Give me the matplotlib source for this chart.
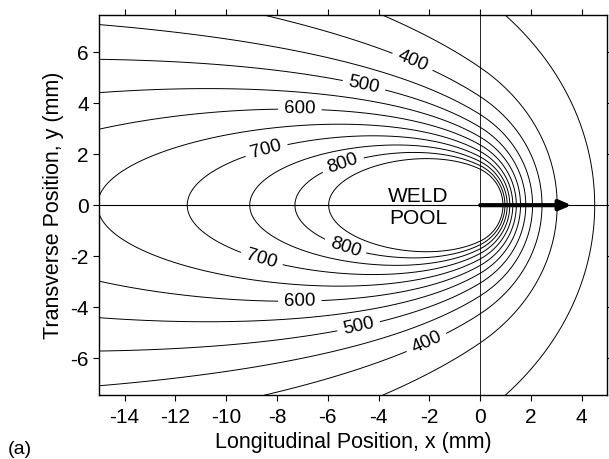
import numpy as np
import matplotlib.pyplot as plt

# isotherm levels (deg C) and the ones carrying labels
levels = [300, 350, 400, 450, 500, 550, 600, 650, 700, 750, 800, 850]
label_levels = [400, 500, 600, 700, 800]
label_pos = [(-2.8, 5.3), (-4.6, 4.6), (-7.1, 3.7), (-8.4, 2.1), (-5.4, 1.6),
             (-5.3, -1.6), (-8.6, -2.1), (-7.1, -3.9), (-4.8, -4.7), (-2.2, -5.2)]

# moving line source (thin plate) parameters
T0 = 281.0      # far field temperature
amp = 662.0     # source strength
u = 0.32        # v / (2 alpha), 1/mm
ky = 1.2        # transverse scale
kx_front = 1.35  # steeper gradient ahead of the arc

x_range = (-15, 5)
y_range = (-7.45, 7.45)
arrow_len = 3.6


def bessel_k0(z):
    z = np.asarray(z, dtype=float)
    out = np.empty_like(z)
    small = z <= 2.0
    zs = z[small]
    t = (zs / 3.75) ** 2
    i0 = 1 + t * (3.5156229 + t * (3.0899424 + t * (1.2067492 + t * (0.2659732
         + t * (0.0360768 + t * 0.0045813)))))
    h = (zs / 2) ** 2
    out[small] = (-np.log(zs / 2) * i0 - 0.57721566 + h * (0.42278420 + h * (0.23069756
                  + h * (0.03488590 + h * (0.00262698 + h * (0.00010750 + h * 0.00000740))))))
    zl = z[~small]
    q = 2 / zl
    poly = 1.25331414 + q * (-0.07832358 + q * (0.02189568 + q * (-0.01062446
           + q * (0.00587872 + q * (-0.00251540 + q * 0.00053208)))))
    out[~small] = np.exp(-zl) / np.sqrt(zl) * poly
    return out


x = np.linspace(x_range[0], x_range[1], 801)
y = np.linspace(y_range[0], y_range[1], 601)
X, Y = np.meshgrid(x, y)

Xr = np.where(X > 0, kx_front * X, X)
R = np.sqrt(Xr ** 2 + (ky * Y) ** 2)
R = np.maximum(R, 0.05)
T = T0 + amp * np.exp(-u * X) * bessel_k0(u * R)

plt.rcParams['font.family'] = 'Liberation Sans'
plt.rcParams['axes.unicode_minus'] = False
fig = plt.figure(figsize=(6.09, 4.59), dpi=100)
ax = fig.add_axes([0.163, 0.139, 0.834, 0.828])

plain_levels = [lv for lv in levels if lv not in label_levels]
ax.contour(X, Y, T, levels=plain_levels, colors='black', linewidths=0.7)
cs = ax.contour(X, Y, T, levels=label_levels, colors='black', linewidths=0.7)
ax.clabel(cs, manual=label_pos, inline=True, fmt='%d', fontsize=13.5,
          inline_spacing=6)

ax.axhline(0, color='black', lw=0.8)
ax.axvline(0, color='black', lw=0.6)
ax.annotate('', xy=(arrow_len, 0), xytext=(0, 0),
            arrowprops=dict(arrowstyle='-|>,head_length=0.7,head_width=0.3',
                            color='black', lw=3, shrinkA=0, shrinkB=0))
ax.text(-2.45, -0.1, 'WELD\nPOOL', ha='center', va='center', fontsize=15,
        linespacing=1.2)

ax.set_xlim(*x_range)
ax.set_ylim(*y_range)
ax.set_xticks(np.arange(-14, 5, 2))
ax.set_yticks(np.arange(-6, 7, 2))
ax.tick_params(direction='out', length=4.5, width=0.8, labelsize=15,
               top=True, right=True, pad=3)
ax.tick_params(axis='x', pad=5)
for s in ax.spines.values():
    s.set_linewidth(1.0)

ax.set_xlabel('Longitudinal Position, x (mm)', fontsize=15.5)
ax.set_ylabel('Transverse Position, y (mm)', fontsize=15.5)
ax.xaxis.set_label_coords(0.5, -0.098)
ax.yaxis.set_label_coords(-0.07, 0.5)
fig.text(0.013, 0.01, '(a)', fontsize=14)

fig.savefig('out.png', dpi=100)
